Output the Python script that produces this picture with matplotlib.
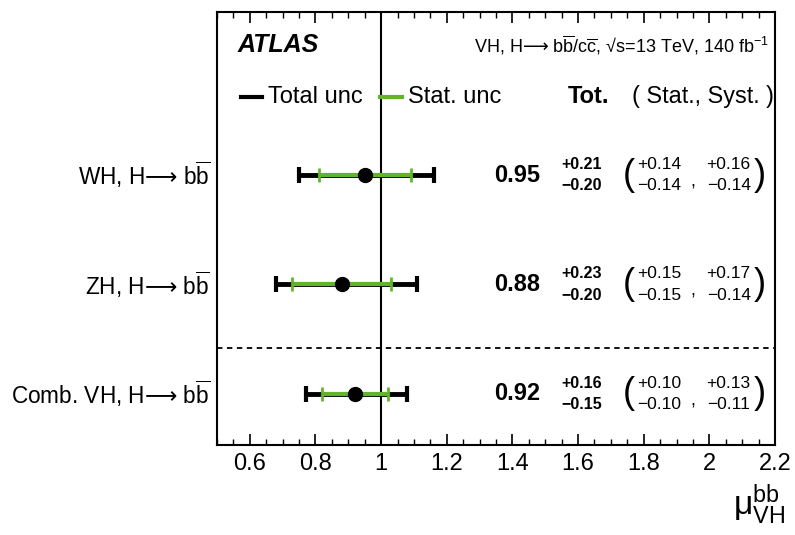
import matplotlib
matplotlib.use("Agg")
import matplotlib.pyplot as plt
from matplotlib.transforms import blended_transform_factory
from matplotlib.ticker import MultipleLocator

plt.rcParams['font.family'] = ['Liberation Sans', 'DejaVu Sans']
plt.rcParams['mathtext.fontset'] = 'custom'
plt.rcParams['mathtext.rm'] = 'Liberation Sans'
plt.rcParams['mathtext.it'] = 'Liberation Sans:italic'
plt.rcParams['mathtext.bf'] = 'Liberation Sans:bold'
plt.rcParams['mathtext.sf'] = 'DejaVu Sans'

ARROW = '$\\mathsf{\u27f6}$'
BBAR = 'b$\\overline{\\mathrm{b}}$'

# ---------------- data ----------------
labels = ['WH, H' + ARROW + ' ' + BBAR,
          'ZH, H' + ARROW + ' ' + BBAR,
          'Comb. VH, H' + ARROW + ' ' + BBAR]
mu = [0.95, 0.88, 0.92]
tot_up = [0.21, 0.23, 0.16]
tot_dn = [0.20, 0.20, 0.15]
stat_up = [0.14, 0.15, 0.10]
stat_dn = [0.14, 0.15, 0.10]
syst_up = [0.16, 0.17, 0.13]
syst_dn = [0.14, 0.14, 0.11]
rows = [2, 1, 0]
xticks = [0.6, 0.8, 1.0, 1.2, 1.4, 1.6, 1.8, 2.0, 2.2]
xticklabels = ['0.6', '0.8', '1', '1.2', '1.4', '1.6', '1.8', '2', '2.2']

GREEN = '#62b52a'

fig = plt.figure(figsize=(7.95, 5.35), dpi=100)
ax = fig.add_axes([217/795, 1-445/535, 558/795, 433/535])
ax.set_xlim(0.5, 2.2)
ax.set_ylim(-0.466, 3.489)

# reference line and separator
ax.axvline(1.0, color='black', lw=1.5, zorder=1)
ax.axhline(0.42, color='black', lw=1.3, ls=(0, (3, 2.5)), zorder=1)

for i, y in enumerate(rows):
    ax.errorbar(mu[i], y, xerr=[[tot_dn[i]], [tot_up[i]]], fmt='none',
                ecolor='black', elinewidth=3.5, capsize=6, capthick=3, zorder=2)
    ax.errorbar(mu[i], y, xerr=[[stat_dn[i]], [stat_up[i]]], fmt='none',
                ecolor=GREEN, elinewidth=3, capsize=5, capthick=2, zorder=3)
    ax.plot(mu[i], y, 'o', color='black', ms=10, zorder=4)

tr = blended_transform_factory(ax.transAxes, ax.transData)
dy = 0.1
for i, y in enumerate(rows):
    ax.text(-0.012, y, labels[i], transform=tr, ha='right', va='center', fontsize=16.3)
    ax.text(0.538, y, f'{mu[i]:.2f}', transform=tr, ha='center', va='center',
            fontsize=17, fontweight='bold')
    ax.text(0.654, y + dy, f'+{tot_up[i]:.2f}', transform=tr, ha='center', va='center',
            fontsize=11.5, fontweight='bold')
    ax.text(0.654, y - dy, f'\u2212{tot_dn[i]:.2f}', transform=tr, ha='center', va='center',
            fontsize=11.5, fontweight='bold')
    ax.text(0.738, y, '(', transform=tr, ha='center', va='center', fontsize=26)
    ax.text(0.793, y + dy, f'+{stat_up[i]:.2f}', transform=tr, ha='center', va='center',
            fontsize=12.5)
    ax.text(0.793, y - dy, f'\u2212{stat_dn[i]:.2f}', transform=tr, ha='center', va='center',
            fontsize=12.5)
    ax.text(0.853, y - 0.06, ',', transform=tr, ha='center', va='center', fontsize=13)
    ax.text(0.917, y + dy, f'+{syst_up[i]:.2f}', transform=tr, ha='center', va='center',
            fontsize=12.5)
    ax.text(0.917, y - dy, f'\u2212{syst_dn[i]:.2f}', transform=tr, ha='center', va='center',
            fontsize=12.5)
    ax.text(0.973, y, ')', transform=tr, ha='center', va='center', fontsize=26)

# header
ax.text(0.036, 0.924, 'ATLAS', transform=ax.transAxes, ha='left', va='center',
        fontsize=18, fontweight='bold', fontstyle='italic')
ax.text(0.99, 0.924,
        'VH, H' + ARROW + ' b$\\overline{\\mathrm{b}}$/c$\\overline{\\mathrm{c}}$, \u221as=13 TeV, 140 fb$^{-1}$',
        transform=ax.transAxes, ha='right', va='center', fontsize=13)

# legend row
ly = 0.804
ax.plot([0.043, 0.080], [ly, ly], transform=ax.transAxes, color='black', lw=3, clip_on=False)
ax.text(0.092, ly, 'Total unc', transform=ax.transAxes, ha='left', va='center', fontsize=17)
ax.plot([0.293, 0.332], [ly, ly], transform=ax.transAxes, color=GREEN, lw=3, clip_on=False)
ax.text(0.342, ly, 'Stat. unc', transform=ax.transAxes, ha='left', va='center', fontsize=17)
ax.text(0.629, ly, 'Tot.', transform=ax.transAxes, ha='left', va='center', fontsize=17,
        fontweight='bold')
ax.text(0.999, ly, '( Stat., Syst. )', transform=ax.transAxes, ha='right', va='center',
        fontsize=16.8)

# axes styling
ax.set_xticks(xticks)
ax.set_xticklabels(xticklabels)
ax.xaxis.set_minor_locator(MultipleLocator(0.05))
ax.tick_params(axis='x', which='both', direction='in', top=True, bottom=True,
               labelsize=17, pad=6)
ax.tick_params(axis='x', which='major', length=8, width=1.2)
ax.tick_params(axis='x', which='minor', length=4, width=1)
ax.set_yticks([])
for s in ax.spines.values():
    s.set_linewidth(1.5)

fig.text(0.955, 0.056, r'$\mathrm{\mu}^{\mathrm{bb}}_{\mathrm{VH}}$', ha='center', va='center',
         fontsize=24)

fig.savefig('out.png', dpi=100)
